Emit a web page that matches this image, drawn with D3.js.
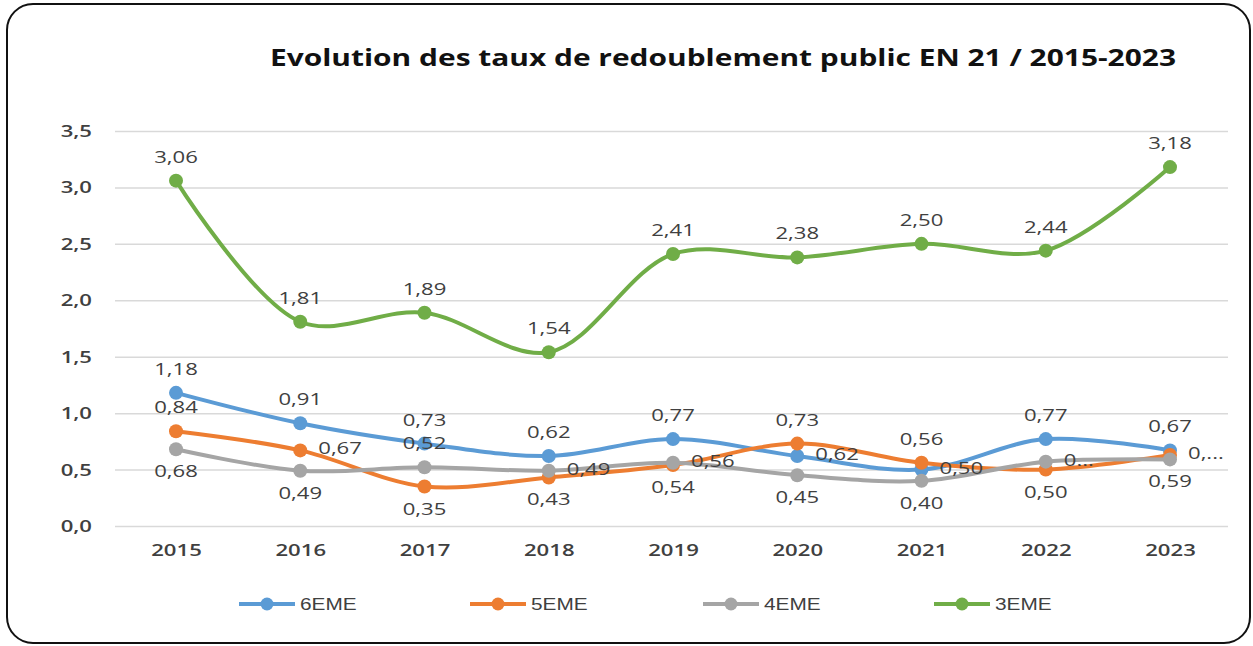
<!DOCTYPE html>
<html>
<head>
<meta charset="utf-8">
<script src="https://cdn.jsdelivr.net/npm/d3@7"></script>
<style>
  body { margin: 0; background: #fff; }
  svg { display: block; }
</style>
</head>
<body>
<div id="chart"></div>
<script>
var years = ["2015", "2016", "2017", "2018", "2019", "2020", "2021", "2022", "2023"];
var yTicks = [0, 0.5, 1, 1.5, 2, 2.5, 3, 3.5];

var s6eme = [1.18, 0.91, 0.73, 0.62, 0.77, 0.62, 0.50, 0.77, 0.67];
var s5eme = [0.84, 0.67, 0.35, 0.43, 0.54, 0.73, 0.56, 0.50, 0.63];
var s4eme = [0.68, 0.49, 0.52, 0.49, 0.56, 0.45, 0.40, 0.57, 0.59];
var s3eme = [3.06, 1.81, 1.89, 1.54, 2.41, 2.38, 2.50, 2.44, 3.18];

// where each data label sits (t = above, b = below, r = right)
var place6 = ["t", "t", "t", "t", "t", "r", "r", "t", "t"];
var place5 = ["t", "r", "b", "b", "b", "t", "t", "b", "r"];
var place4 = ["b", "b", "t", "r", "r", "b", "b", "r", "b"];
var place3 = ["t", "t", "t", "t", "t", "t", "t", "t", "t"];

// labels cut off in the original
var text5 = {8: "0,..."};
var text4 = {7: "0..."};

var series = [
  {name: "6EME", vals: s6eme, place: place6, text: {}, color: "#5B9BD5"},
  {name: "5EME", vals: s5eme, place: place5, text: text5, color: "#ED7D31"},
  {name: "4EME", vals: s4eme, place: place4, text: text4, color: "#A5A5A5"},
  {name: "3EME", vals: s3eme, place: place3, text: {}, color: "#70AD47"}
];

var W = 1253, H = 646;
var stretch = 1.3; // the original picture is wider than normal, text looks stretched

var svg = d3.select("#chart").append("svg")
    .attr("width", W)
    .attr("height", H);

svg.append("rect")
    .attr("x", 7).attr("y", 4)
    .attr("width", 1243).attr("height", 639)
    .attr("rx", 26).attr("ry", 26)
    .attr("fill", "#fff")
    .attr("stroke", "#111")
    .attr("stroke-width", 2);

svg.append("text")
    .attr("x", 723).attr("y", 66)
    .attr("text-anchor", "middle")
    .attr("font-family", "Open Sans, sans-serif")
    .attr("font-weight", "bold")
    .attr("font-size", 23)
    .attr("fill", "#111")
    .text("Evolution des taux de redoublement public EN 21 / 2015-2023");

var x = d3.scalePoint().domain(years).range([176, 1170]);
var y = d3.scaleLinear().domain([0, 3.5]).range([526, 131]);

var fmt = function(v) { return d3.format(".2f")(v).replace(".", ","); };
var fmtTick = function(v) { return d3.format(".1f")(v).replace(".", ","); };

// grid
var yAxis = svg.append("g")
    .attr("transform", "translate(115,0)")
    .call(d3.axisLeft(y).tickValues(yTicks).tickSize(-1113).tickFormat(fmtTick).tickPadding(23));
yAxis.select(".domain").remove();
yAxis.selectAll("line").attr("stroke", "#D9D9D9").attr("stroke-width", 1.5);
yAxis.selectAll("text")
    .attr("font-family", "Open Sans, sans-serif")
    .attr("font-size", 17)
    .attr("font-weight", 600)
    .attr("fill", "#404040");

var xAxis = svg.append("g")
    .attr("transform", "translate(0,526)")
    .call(d3.axisBottom(x).tickSize(0).tickPadding(18));
xAxis.select(".domain").remove();
xAxis.selectAll("text")
    .attr("font-family", "Open Sans, sans-serif")
    .attr("font-size", 17)
    .attr("font-weight", 600)
    .attr("fill", "#404040");

var line = d3.line()
    .x(function(d, i) { return x(years[i]); })
    .y(function(d) { return y(d); })
    .curve(d3.curveCatmullRom.alpha(0.5));

series.forEach(function(s) {
  var g = svg.append("g");
  g.append("path")
      .attr("d", line(s.vals))
      .attr("fill", "none")
      .attr("stroke", s.color)
      .attr("stroke-width", 4)
      .attr("stroke-linecap", "round");
  g.selectAll("circle")
      .data(s.vals)
    .enter().append("circle")
      .attr("cx", function(d, i) { return x(years[i]); })
      .attr("cy", function(d) { return y(d); })
      .attr("r", 7)
      .attr("fill", s.color);
});

// data labels on top
series.forEach(function(s) {
  svg.append("g").selectAll("text")
      .data(s.vals)
    .enter().append("text")
      .attr("font-family", "Open Sans, sans-serif")
      .attr("font-size", 17)
      .attr("fill", "#404040")
      .attr("text-anchor", function(d, i) { return s.place[i] == "r" ? "start" : "middle"; })
      .attr("x", function(d, i) { return x(years[i]) + (s.place[i] == "r" ? 18 : 0); })
      .attr("y", function(d, i) {
        var p = s.place[i];
        if (p == "t") return y(d) - 18;
        if (p == "b") return y(d) + 28;
        return y(d) + 4;
      })
      .text(function(d, i) { return s.text[i] || fmt(d); });
});

// legend
var legX = [239, 470, 703, 934];
var leg = svg.append("g").selectAll("g")
    .data(series)
  .enter().append("g")
    .attr("transform", function(d, i) { return "translate(" + legX[i] + ",604)"; });
leg.append("line")
    .attr("x1", 0).attr("x2", 56)
    .attr("stroke", function(d) { return d.color; })
    .attr("stroke-width", 4);
leg.append("circle")
    .attr("cx", 28).attr("r", 6.5)
    .attr("fill", function(d) { return d.color; });
leg.append("text")
    .attr("x", 61).attr("y", 6)
    .attr("font-family", "Liberation Sans, sans-serif")
    .attr("font-size", 16)
    .attr("fill", "#404040")
    .text(function(d) { return d.name; });

// widen every text the same way
svg.selectAll("text").each(function() {
  var w = this.getComputedTextLength();
  d3.select(this)
    .attr("textLength", w * stretch)
    .attr("lengthAdjust", "spacingAndGlyphs");
});
</script>
</body>
</html>
